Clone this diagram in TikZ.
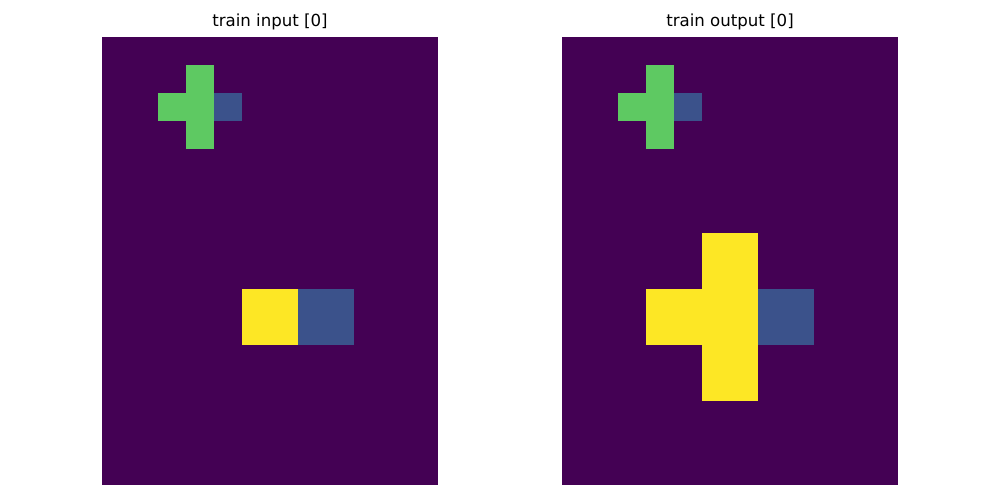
\documentclass[tikz,border=0pt]{standalone}
\usepackage{fontspec}
\setmainfont{DejaVu Sans}
\definecolor{gridbg}{HTML}{440154}
\definecolor{cellgreen}{HTML}{5EC962}
\definecolor{cellblue}{HTML}{3B528B}
\definecolor{cellyellow}{HTML}{FDE725}
\tikzset{
    % panel title
    title/.style={
        font=\fontsize{12}{14}\selectfont,
        inner sep=0pt,
    },
    % grid cells
    bgcell/.style={fill=gridbg},
    G/.style={fill=cellgreen},
    B/.style={fill=cellblue},
    Y/.style={fill=cellyellow},
}

\begin{document}
\begin{tikzpicture}[x=0.254mm,y=-0.254mm]
    \useasboundingbox (0,0) rectangle (1000,500);

%INPUT_BEGIN%
    \node[title] (tin) at (270,22) {train input [0]};
    \begin{scope}[shift={(102,37)},x=7.112mm,y=-7.112mm]
        \fill[bgcell] (0,0) rectangle (12,16);
        \fill[G] (3,1) rectangle (4,4);
        \fill[G] (2,2) rectangle (3,3);
        \fill[B] (4,2) rectangle (5,3);
        \fill[Y] (5,9) rectangle (7,11);
        \fill[B] (7,9) rectangle (9,11);
    \end{scope}
%INPUT_END%

%OUTPUT_BEGIN%
    \node[title] (tout) at (730,22) {train output [0]};
    \begin{scope}[shift={(562,37)},x=7.112mm,y=-7.112mm]
        \fill[bgcell] (0,0) rectangle (12,16);
        \fill[G] (3,1) rectangle (4,4);
        \fill[G] (2,2) rectangle (3,3);
        \fill[B] (4,2) rectangle (5,3);
        \fill[Y] (5,7) rectangle (7,13);
        \fill[Y] (3,9) rectangle (5,11);
        \fill[B] (7,9) rectangle (9,11);
    \end{scope}
%OUTPUT_END%
\end{tikzpicture}
\end{document}
